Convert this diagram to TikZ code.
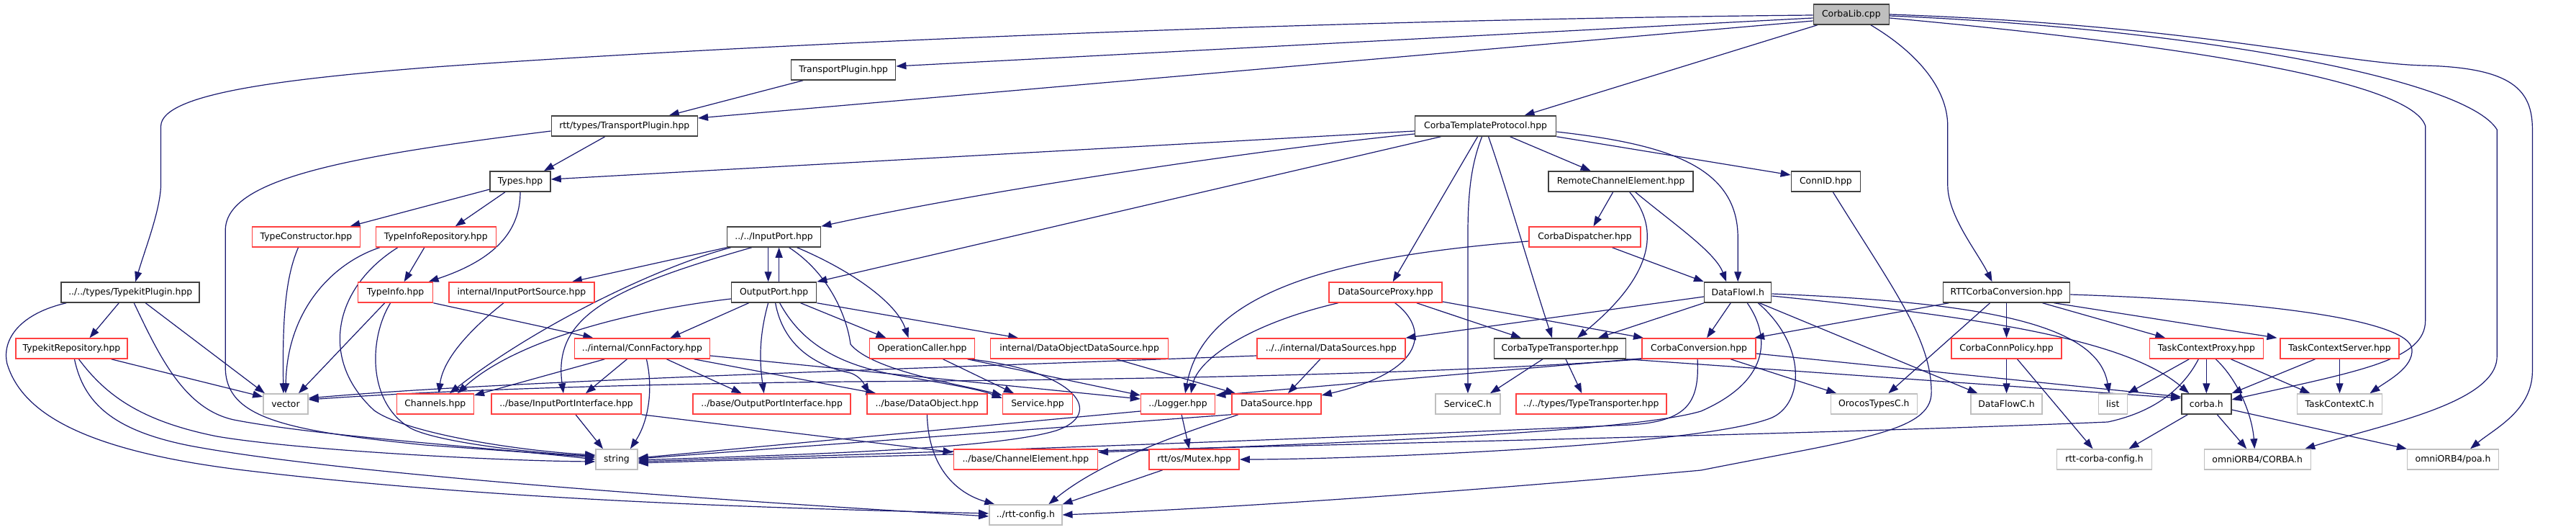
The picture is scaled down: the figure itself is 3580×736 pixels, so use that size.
\documentclass[tikz,border=0pt]{standalone}
\usepackage{fontspec}
\newfontfamily\dvs{DejaVu Sans}
\usetikzlibrary{arrows.meta,backgrounds}
\definecolor{edgec}{HTML}{191970}
\definecolor{redc}{HTML}{FF4040}
\definecolor{grayc}{HTML}{BFBFBF}
\definecolor{blkc}{HTML}{404040}
\begin{document}
\begin{tikzpicture}[x=0.985pt,y=-1pt,
 nb/.style={draw=blkc,line width=1.5pt,fill=white,minimum height=28pt,inner sep=0pt,font=\dvs\fontsize{12.4}{15}\selectfont,text=black},
 nr/.style={nb,draw=redc},
 ng/.style={nb,draw=grayc},
 e/.style={draw=edgec,line width=1.2pt,-{Triangle[length=14pt,width=10pt]}}]
\useasboundingbox (0pt,0pt) rectangle (3580pt,-736pt);
% ---------------- nodes
\node[nb,fill=grayc,minimum width=105pt] (lib) at (2612,20) {CorbaLib.cpp};
\node[nb,minimum width=145pt] (tp) at (1190,97) {TransportPlugin.hpp};
\node[nb,minimum width=203pt] (rtp) at (881,175) {rtt/types/TransportPlugin.hpp};
\node[nb,minimum width=196pt] (ctp) at (2096,175) {CorbaTemplateProtocol.hpp};
\node[nb,minimum width=84pt] (types) at (734,252) {Types.hpp};
\node[nb,minimum width=201pt] (rce) at (2287,252) {RemoteChannelElement.hpp};
\node[nb,minimum width=96pt] (connid) at (2576,252) {ConnID.hpp};
\node[nr,minimum width=150pt] (tcons) at (432,329) {TypeConstructor.hpp};
\node[nr,minimum width=167pt] (tirep) at (615,329) {TypeInfoRepository.hpp};
\node[nb,minimum width=130pt] (inport) at (1092,329) {../../InputPort.hpp};
\node[nr,minimum width=155pt] (cdisp) at (2236,329) {CorbaDispatcher.hpp};
\node[nb,minimum width=192pt] (tkplug) at (184,406) {../../types/TypekitPlugin.hpp};
\node[nr,minimum width=104pt] (tinfo) at (558,406) {TypeInfo.hpp};
\node[nr,minimum width=202pt] (ipsrc) at (736,406) {internal/InputPortSource.hpp};
\node[nb,minimum width=118pt] (outport) at (1092,406) {OutputPort.hpp};
\node[nr,minimum width=157pt] (dsproxy) at (1955,406) {DataSourceProxy.hpp};
\node[nb,minimum width=93pt] (dfi) at (2452,406) {DataFlowI.h};
\node[nb,minimum width=176pt] (rttcc) at (2831,406) {RTTCorbaConversion.hpp};
\node[nr,minimum width=155pt] (tkrep) at (101,484) {TypekitRepository.hpp};
\node[nr,minimum width=188pt] (connf) at (906,484) {../internal/ConnFactory.hpp};
\node[nr,minimum width=146pt] (opcall) at (1301,484) {OperationCaller.hpp};
\node[nr,minimum width=247pt] (dods) at (1523,484) {internal/DataObjectDataSource.hpp};
\node[nr,minimum width=206pt] (dsrcs) at (1878,484) {../../internal/DataSources.hpp};
\node[nb,minimum width=183pt] (ctt) at (2201,484) {CorbaTypeTransporter.hpp};
\node[nr,minimum width=158pt] (cconv) at (2397,484) {CorbaConversion.hpp};
\node[nr,minimum width=153pt] (ccpol) at (2831,484) {CorbaConnPolicy.hpp};
\node[nr,minimum width=158pt] (tcproxy) at (3113,484) {TaskContextProxy.hpp};
\node[nr,minimum width=165pt] (tcserver) at (3301,484) {TaskContextServer.hpp};
\node[ng,minimum width=62pt] (vector) at (403,561) {vector};
\node[nr,minimum width=107pt] (channels) at (614,561) {Channels.hpp};
\node[nr,minimum width=208pt] (ipi) at (799,561) {../base/InputPortInterface.hpp};
\node[nr,minimum width=219pt] (opi) at (1089,561) {../base/OutputPortInterface.hpp};
\node[nr,minimum width=167pt] (dobj) at (1308,561) {../base/DataObject.hpp};
\node[nr,minimum width=97pt] (service) at (1464,561) {Service.hpp};
\node[nr,minimum width=103pt] (logger) at (1662,561) {../Logger.hpp};
\node[nr,minimum width=124pt] (dsrc) at (1801,561) {DataSource.hpp};
\node[ng,minimum width=90pt] (servicec) at (2071,561) {ServiceC.h};
\node[nr,minimum width=209pt] (ttrans) at (2245,561) {../../types/TypeTransporter.hpp};
\node[ng,minimum width=120pt] (otc) at (2644,561) {OrocosTypesC.h};
\node[ng,minimum width=99pt] (dfc) at (2831,561) {DataFlowC.h};
\node[ng,minimum width=40pt] (list) at (2981,561) {list};
\node[nb,minimum width=69pt] (corbah) at (3113,561) {corba.h};
\node[ng,minimum width=118pt] (tcc) at (3301,561) {TaskContextC.h};
\node[ng,minimum width=58pt] (string) at (870,638) {string};
\node[nr,minimum width=200pt] (chel) at (1447,638) {../base/ChannelElement.hpp};
\node[nr,minimum width=125pt] (mutex) at (1685,638) {rtt/os/Mutex.hpp};
\node[ng,minimum width=132pt] (rccfg) at (2969,638) {rtt-corba-config.h};
\node[ng,minimum width=148pt] (corbaH) at (3185,638) {omniORB4/CORBA.h};
\node[ng,minimum width=127pt] (poa) at (3461,638) {omniORB4/poa.h};
\node[ng,minimum width=101pt] (rttcfg) at (1447,715) {../rtt-config.h};
% ---------------- edges
\begin{scope}[on background layer]
\fill[white] (0pt,0pt) rectangle (3580pt,-736pt);
% CorbaLib
\draw[e] ([yshift=-1pt]lib.west) .. controls (1800,28) and (1000,65) .. (600,94) .. controls (400,110) and (228,130) .. (227,175) -- (227,255) .. controls (227,290) and (205,345) .. ([xshift=7pt]tkplug.north);
\draw[e] ([yshift=-5pt]lib.west) -- ([yshift=5pt]tp.east);
\draw[e] ([yshift=-9pt]lib.west) -- ([yshift=11pt]rtp.east);
\draw[e] ([xshift=-47pt]lib.south) -- ([xshift=54pt]ctp.north);
\draw[e] ([xshift=27pt]lib.south) .. controls (2700,70) and (2748,120) .. (2748,175) -- (2748,257) .. controls (2748,300) and (2790,350) .. ([xshift=-20pt]rttcc.north);
\draw[e] ([yshift=-5pt]lib.east) .. controls (3000,55) and (3400,105) .. (3422,175) -- (3422,445) .. controls (3422,500) and (3330,515) .. ([yshift=6pt]corbah.east);
\draw[e] ([yshift=-2pt]lib.east) .. controls (3100,40) and (3480,110) .. (3523,180) -- (3523,495) .. controls (3523,560) and (3360,590) .. ([xshift=66pt]corbaH.north);
\draw[e] (lib.east) .. controls (3100,35) and (3300,88) .. (3420,91) .. controls (3545,94) and (3573,125) .. (3573,180) -- (3573,515) .. controls (3573,570) and (3520,595) .. ([xshift=24pt]poa.north);
% TransportPlugin
\draw[e] ([xshift=-56pt]tp.south) -- ([xshift=62pt]rtp.north);
\draw[e] ([xshift=-27pt]rtp.south) -- ([xshift=33pt]types.north);
\draw[e] ([yshift=-7pt]rtp.west) .. controls (480,218) and (318,250) .. (318,320) -- (318,510) .. controls (318,580) and (400,598) .. (600,618) -- ([yshift=3pt]string.west);
% Types
\draw[e] ([yshift=-11pt]types.west) -- ([xshift=61pt]tcons.north);
\draw[e] ([xshift=-21pt]types.south) -- ([xshift=27pt]tirep.north);
\draw[e] (types.south) .. controls (734,320) and (700,360) .. ([xshift=46pt]tinfo.north);
% TypeConstructor, TypeInfoRepository
\draw[e] ([xshift=-11pt]tcons.south) .. controls (405,380) and (398,430) .. ([xshift=-3pt]vector.north);
\draw[e] ([xshift=-78pt]tirep.south) .. controls (470,365) and (405,430) .. (vector.north);
\draw[e] ([xshift=-53pt]tirep.south) .. controls (470,400) and (450,500) .. (528,570) .. controls (570,600) and (720,625) .. ([yshift=6pt]string.west);
\draw[e] ([xshift=-16pt]tirep.south) -- ([xshift=12pt]tinfo.north);
% TypekitPlugin
\draw[e] ([xshift=-16pt]tkplug.south) -- ([xshift=25pt]tkrep.north);
\draw[e] ([xshift=21pt]tkplug.south) -- ([xshift=-29pt]vector.north);
\draw[e] ([xshift=5pt]tkplug.south) .. controls (225,495) and (260,568) .. (330,583) .. controls (450,606) and (700,622) .. (string.west);
\draw[e] ([xshift=-89pt]tkplug.south) .. controls (30,435) and (2,470) .. (10,505) .. controls (30,570) and (110,625) .. (344,653) .. controls (700,695) and (1100,706) .. ([yshift=2pt]rttcfg.west);
% TypekitRepository
\draw[e] ([xshift=55pt]tkrep.south) -- ([yshift=10pt]vector.west);
\draw[e] ([xshift=10pt]tkrep.south) .. controls (150,550) and (200,585) .. (306,606) .. controls (420,625) and (700,640) .. ([yshift=-3pt]string.west);
\draw[e] ([xshift=4pt]tkrep.south) .. controls (118,560) and (160,598) .. (268,619) .. controls (500,662) and (1100,700) .. ([yshift=-2pt]rttcfg.west);
% TypeInfo
\draw[e] ([xshift=-15pt]tinfo.south) -- ([xshift=18pt]vector.north);
\draw[e] ([xshift=-7pt]tinfo.south) .. controls (520,470) and (518,560) .. (580,595) .. controls (620,615) and (760,630) .. ([yshift=5pt]string.west);
\draw[e] (tinfo.south east) -- ([xshift=-68pt]connf.north);
% InputPort
\draw[e] (inport.south west) -- ([xshift=70pt]ipsrc.north);
\draw[e] ([xshift=-60pt]inport.south) .. controls (930,370) and (760,450) .. ([xshift=20pt]channels.north);
\draw[e] ([xshift=-31pt]inport.south) .. controls (860,400) and (780,440) .. ([xshift=-4pt]ipi.north);
\draw[e] ([xshift=-8pt]inport.south) -- ([xshift=-8pt]outport.north);
\draw[e] ([xshift=7pt]outport.north) -- ([xshift=7pt]inport.south);
\draw[e] ([xshift=21pt]inport.south) .. controls (1170,380) and (1195,440) .. (1200,478) .. controls (1230,515) and (1360,535) .. ([yshift=12pt]service.west);
\draw[e] ([xshift=32pt]inport.south) .. controls (1200,375) and (1265,420) .. ([xshift=-19pt]opcall.north);
% OutputPort
\draw[e] ([yshift=-9pt]outport.west) .. controls (900,430) and (730,470) .. ([xshift=31pt]channels.north);
\draw[e] ([xshift=-35pt]outport.south) -- ([xshift=39pt]connf.north);
\draw[e] ([xshift=-8pt]outport.south) .. controls (1070,470) and (1072,505) .. ([xshift=-11pt]opi.north);
\draw[e] ([xshift=2pt]outport.south) .. controls (1105,480) and (1150,508) .. (1200,518) .. controls (1215,523) and (1220,535) .. ([xshift=-80pt]dobj.north);
\draw[e] ([xshift=8pt]outport.south) .. controls (1130,475) and (1180,505) .. (1260,520) .. controls (1330,532) and (1380,540) .. ([yshift=8pt]service.west);
\draw[e] ([xshift=37pt]outport.south) -- ([xshift=-50pt]opcall.north);
\draw[e] (outport.south east) -- ([xshift=-85pt]dods.north);
% ConnFactory
\draw[e] ([xshift=-52pt]connf.south) -- ([yshift=12pt]channels.east);
\draw[e] ([xshift=-21pt]connf.south) -- ([xshift=27pt]ipi.north);
\draw[e] ([xshift=6pt]connf.south) .. controls (922,540) and (915,585) .. ([xshift=19pt]string.north);
\draw[e] ([xshift=34pt]connf.south) -- ([xshift=-42pt]opi.north);
\draw[e] ([xshift=72pt]connf.south) -- ([xshift=-71pt]dobj.north);
\draw[e] ([yshift=-10pt]connf.east) -- ([yshift=7pt]logger.west);
% InputPortSource, InputPortInterface
\draw[e] ([xshift=-25pt]ipsrc.south) .. controls (660,460) and (625,500) .. ([xshift=5pt]channels.north);
\draw[e] ([xshift=13pt]ipi.south) -- ([xshift=-19pt]string.north);
\draw[e] (ipi.south east) -- ([yshift=10pt]chel.west);
% OperationCaller
\draw[e] ([xshift=29pt]opcall.south) -- ([xshift=-33pt]service.north);
\draw[e] ([xshift=63pt]opcall.south) -- ([yshift=12pt]logger.west);
\draw[e] ([xshift=66pt]opcall.south) .. controls (1520,515) and (1560,575) .. (1490,598) .. controls (1400,625) and (1100,632) .. ([yshift=-1pt]string.east);
% DataObjectDataSource, DataObject
\draw[e] ([xshift=51pt]dods.south) -- ([xshift=-57pt]dsrc.north);
\draw[e] (dobj.south) .. controls (1310,650) and (1350,685) .. ([xshift=-43pt]rttcfg.north);
% Logger, DataSource, Mutex
\draw[e] ([yshift=-10pt]logger.west) -- ([yshift=2pt]string.east);
\draw[e] ([xshift=5pt]logger.south) -- ([xshift=-7pt]mutex.north);
\draw[e] (dsrc.south west) -- ([yshift=1pt]string.east);
\draw[e] ([xshift=-53pt]dsrc.south) .. controls (1690,595) and (1560,635) .. ([xshift=32pt]rttcfg.north);
\draw[e] ([xshift=-44pt]mutex.south) -- (rttcfg.north east);
% DataSources
\draw[e] ([xshift=-15pt]dsrcs.south) -- ([xshift=16pt]dsrc.north);
\draw[e] ([yshift=-10pt]dsrcs.west) .. controls (1200,515) and (700,530) .. ([yshift=8pt]vector.east);
% DataSourceProxy, CorbaDispatcher
\draw[e] ([xshift=-66pt]dsproxy.south) .. controls (1760,450) and (1690,500) .. ([xshift=18pt]logger.north);
\draw[e] ([yshift=-6pt]cdisp.west) .. controls (1900,355) and (1700,400) .. ([xshift=10pt]logger.north);
\draw[e] ([xshift=13pt]dsproxy.south) .. controls (2015,455) and (2015,515) .. ([yshift=12pt]dsrc.east);
\draw[e] ([xshift=43pt]dsproxy.south) -- ([xshift=-54pt]ctt.north);
\draw[e] ([yshift=-13pt]dsproxy.east) -- ([xshift=-77pt]cconv.north);
\draw[e] ([xshift=38pt]cdisp.south) -- (dfi.north west);
% CorbaTemplateProtocol
\draw[e] ([yshift=-7pt]ctp.west) -- ([yshift=3pt]types.east);
\draw[e] ([yshift=-11pt]ctp.west) .. controls (1800,205) and (1400,262) .. (inport.north east);
\draw[e] ([xshift=-62pt]ctp.south) -- (outport.north east);
\draw[e] ([xshift=-11pt]ctp.south) -- ([xshift=10pt]dsproxy.north);
\draw[e] ([xshift=-5pt]ctp.south) .. controls (2075,230) and (2071,270) .. (2071,330) -- (servicec.north);
\draw[e] ([xshift=4pt]ctp.south) .. controls (2125,260) and (2160,380) .. ([xshift=-11pt]ctt.north);
\draw[e] ([xshift=34pt]ctp.south) -- ([xshift=-42pt]rce.north);
\draw[e] (ctp.south east) -- ([yshift=9pt]connid.west);
\draw[e] ([yshift=-8pt]ctp.east) .. controls (2350,200) and (2452,230) .. (2452,330) -- (dfi.north);
% RemoteChannelElement
\draw[e] ([xshift=-11pt]rce.south) -- ([xshift=12pt]cdisp.north);
\draw[e] ([xshift=20pt]rce.south) .. controls (2360,310) and (2420,350) .. ([xshift=-16pt]dfi.north);
\draw[e] ([xshift=12pt]rce.south) .. controls (2345,320) and (2330,385) .. ([xshift=24pt]ctt.north);
% ConnID
\draw[e] ([xshift=10pt]connid.south) .. controls (2670,400) and (2725,470) .. (2725,545) .. controls (2725,600) and (2620,610) .. (2400,653) .. controls (2100,680) and (1750,705) .. (rttcfg.east);
% DataFlowI
\draw[e] ([xshift=-10pt]dfi.south) -- ([xshift=11pt]cconv.north);
\draw[e] (dfi.south west) -- ([xshift=53pt]ctt.north);
\draw[e] ([yshift=-6pt]dfi.west) -- (dsrcs.north east);
\draw[e] ([yshift=-2pt]dfi.east) .. controls (2800,420) and (2960,450) .. ([xshift=-5pt]list.north);
\draw[e] ([yshift=-5pt]dfi.east) .. controls (2850,445) and (3010,480) .. ([xshift=-24pt]corbah.north);
\draw[e] ([xshift=30pt]dfi.south) -- ([xshift=-40pt]dfc.north);
\draw[e] ([xshift=13pt]dfi.south) .. controls (2500,470) and (2495,530) .. (2400,571) .. controls (2300,600) and (1900,615) .. ([yshift=10pt]chel.east);
\draw[e] ([xshift=28pt]dfi.south) .. controls (2550,480) and (2545,560) .. (2500,580) .. controls (2400,620) and (1900,638) .. (mutex.east);
% CorbaConversion, CorbaTypeTransporter
\draw[e] ([xshift=44pt]cconv.south) -- ([xshift=-52pt]otc.north);
\draw[e] ([xshift=-2pt]cconv.south) .. controls (2398,560) and (2380,585) .. (2300,590) .. controls (1800,612) and (1200,632) .. ([yshift=-3pt]string.east);
\draw[e] ([yshift=1pt]cconv.south west) -- ([yshift=12pt]logger.east);
\draw[e] (cconv.south west) .. controls (2000,522) and (1500,528) .. (1200,530) .. controls (900,533) and (620,542) .. ([yshift=6pt]vector.east);
\draw[e] ([yshift=-7pt]cconv.east) -- ([yshift=10pt]corbah.west);
\draw[e] (ctt.south east) -- ([yshift=8pt]corbah.west);
\draw[e] ([xshift=-24pt]ctt.south) -- ([xshift=31pt]servicec.north);
\draw[e] ([xshift=8pt]ctt.south) -- ([xshift=-13pt]ttrans.north);
% RTTCorbaConversion
\draw[e] ([xshift=-80pt]rttcc.south) -- ([xshift=77pt]cconv.north);
\draw[e] ([xshift=-23pt]rttcc.south) -- ([xshift=20pt]otc.north);
\draw[e] (rttcc.south) -- (ccpol.north);
\draw[e] ([xshift=50pt]rttcc.south) -- ([xshift=-57pt]tcproxy.north);
\draw[e] ([xshift=66pt]rttcc.south) -- ([xshift=-87pt]tcserver.north);
\draw[e] ([yshift=-3pt]rttcc.east) .. controls (3200,418) and (3400,445) .. (3403,485) .. controls (3405,510) and (3370,528) .. ([xshift=42pt]tcc.north);
% CorbaConnPolicy
\draw[e] (ccpol.south) -- (dfc.north);
\draw[e] ([xshift=15pt]ccpol.south) -- ([xshift=-16pt]rccfg.north);
% TaskContextProxy, TaskContextServer
\draw[e] ([xshift=-24pt]tcproxy.south) -- (list.north east);
\draw[e] (tcproxy.south) -- (corbah.north);
\draw[e] ([xshift=13pt]tcproxy.south) .. controls (3160,530) and (3178,580) .. ([xshift=-4pt]corbaH.north);
\draw[e] ([xshift=34pt]tcproxy.south) -- ([xshift=-41pt]tcc.north);
\draw[e] ([xshift=-11pt]tcproxy.south) .. controls (3080,540) and (3040,572) .. (2974,586) .. controls (2500,606) and (1500,625) .. ([yshift=-5pt]string.east);
\draw[e] ([xshift=-34pt]tcserver.south) -- (corbah.north east);
\draw[e] (tcserver.south) -- (tcc.north);
% corba.h
\draw[e] ([xshift=-26pt]corbah.south) -- ([xshift=34pt]rccfg.north);
\draw[e] ([xshift=15pt]corbah.south) -- ([xshift=-15pt]corbaH.north);
\draw[e] ([yshift=-8pt]corbah.east) -- (poa.north west);
\end{scope}
\end{tikzpicture}
\end{document}
